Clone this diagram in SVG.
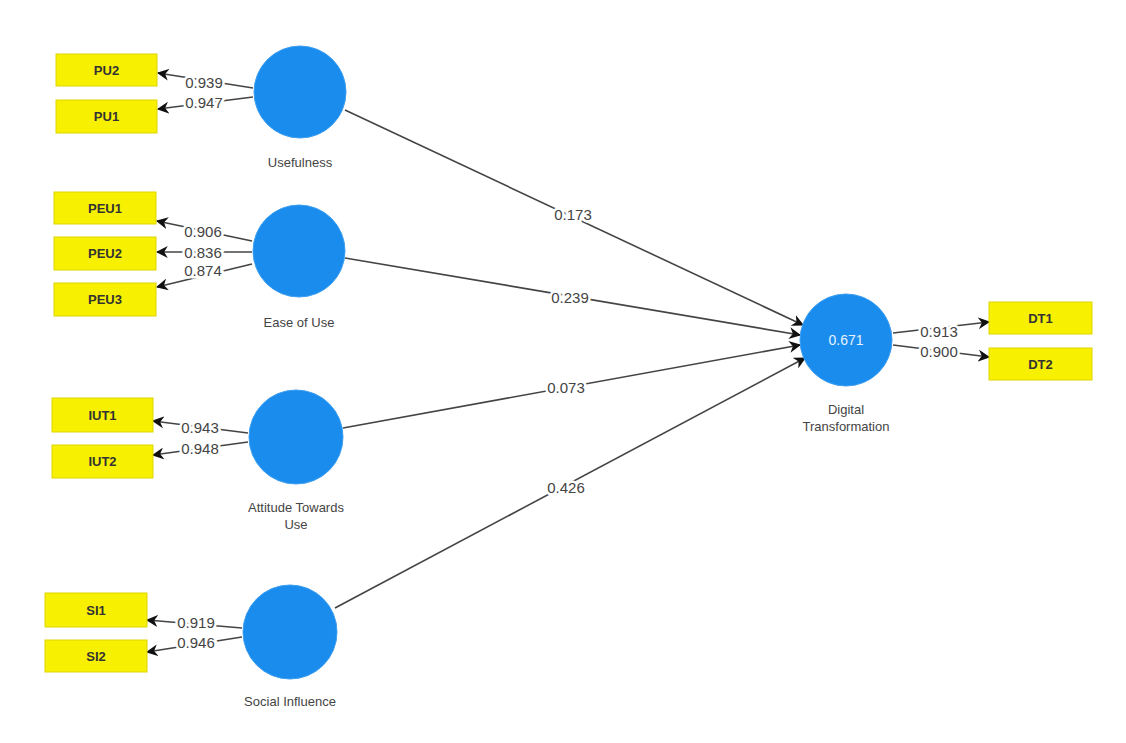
<svg xmlns="http://www.w3.org/2000/svg" width="1126" height="743" viewBox="0 0 1126 743">
<defs>
<marker id="ah" viewBox="0 0 10 10" refX="9" refY="5" markerWidth="12" markerHeight="12" markerUnits="userSpaceOnUse" orient="auto"><path d="M0,0 L10,5 L0,10 L3,5 Z" fill="#111"/></marker>
<style>
.lv{fill:#1a8ced;stroke:#3d9ef0;stroke-width:1}
.ind rect{fill:#f7f000;stroke:#ddd600;stroke-width:1}
.ind text{font-family:"Liberation Sans",Arial,sans-serif;font-size:13px;font-weight:bold;fill:#333;text-anchor:middle}
.nl{font-family:"Liberation Sans",Arial,sans-serif;font-size:13px;fill:#444;text-anchor:middle}
.cn line{stroke:#444;stroke-width:1.6;marker-end:url(#ah)}
.cl{font-family:"Liberation Sans",Arial,sans-serif;font-size:15px;fill:#444;text-anchor:middle;paint-order:stroke;stroke:#fff;stroke-width:5px}
</style>
</defs>
<rect width="1126" height="743" fill="#fff"/>
<g id="connectors" class="cn">
<line x1="345" y1="110" x2="803" y2="325"/>
<line x1="345" y1="258" x2="800" y2="335"/>
<line x1="343" y1="428" x2="800" y2="345"/>
<line x1="335" y1="608" x2="805" y2="358"/>
<line x1="253" y1="88" x2="158" y2="73"/>
<line x1="253" y1="97" x2="158" y2="109"/>
<line x1="252" y1="241" x2="157" y2="221"/>
<line x1="252" y1="252" x2="157" y2="252"/>
<line x1="252" y1="264" x2="157" y2="287"/>
<line x1="248" y1="433" x2="153" y2="421"/>
<line x1="248" y1="442" x2="153" y2="455"/>
<line x1="242" y1="628" x2="147" y2="620"/>
<line x1="242" y1="637" x2="147" y2="652"/>
<line x1="893" y1="333" x2="989" y2="322"/>
<line x1="893" y1="345" x2="989" y2="357"/>
</g>
<g id="connector-labels">
<text class="cl" x="573" y="220">0.173</text>
<text class="cl" x="570" y="303">0.239</text>
<text class="cl" x="566" y="393">0.073</text>
<text class="cl" x="566" y="493">0.426</text>
<text class="cl" x="204" y="88">0.939</text>
<text class="cl" x="204" y="108">0.947</text>
<text class="cl" x="203" y="237">0.906</text>
<text class="cl" x="203" y="258">0.836</text>
<text class="cl" x="203" y="276">0.874</text>
<text class="cl" x="200" y="433">0.943</text>
<text class="cl" x="200" y="454">0.948</text>
<text class="cl" x="196" y="628">0.919</text>
<text class="cl" x="196" y="648">0.946</text>
<text class="cl" x="939" y="337">0.913</text>
<text class="cl" x="939" y="357">0.900</text>
</g>
<g id="usefulness"><circle class="lv" cx="300" cy="92" r="46"/><text class="nl" x="300" y="167">Usefulness</text></g>
<g id="ease-of-use"><circle class="lv" cx="299" cy="251" r="46"/><text class="nl" x="299" y="327">Ease of Use</text></g>
<g id="attitude"><circle class="lv" cx="296" cy="437" r="47"/><text class="nl" x="296" y="512">Attitude Towards</text><text class="nl" x="296" y="529">Use</text></g>
<g id="social-influence"><circle class="lv" cx="290" cy="632" r="47"/><text class="nl" x="290" y="706">Social Influence</text></g>
<g id="digital-transformation"><circle class="lv" cx="846" cy="340" r="46"/><text x="846" y="345" style="font-family:'Liberation Sans',Arial,sans-serif;font-size:14px;fill:#e8f2ff;text-anchor:middle">0.671</text><text class="nl" x="846" y="414">Digital</text><text class="nl" x="846" y="431">Transformation</text></g>
<g id="PU2" class="ind"><rect x="56" y="54" width="101" height="32"/><text x="106.5" y="75">PU2</text></g>
<g id="PU1" class="ind"><rect x="56" y="100" width="101" height="33"/><text x="106.5" y="121">PU1</text></g>
<g id="PEU1" class="ind"><rect x="54" y="192" width="102" height="32"/><text x="105" y="213">PEU1</text></g>
<g id="PEU2" class="ind"><rect x="54" y="237" width="102" height="33"/><text x="105" y="258">PEU2</text></g>
<g id="PEU3" class="ind"><rect x="54" y="283" width="102" height="33"/><text x="105" y="304">PEU3</text></g>
<g id="IUT1" class="ind"><rect x="52" y="398" width="101" height="34"/><text x="102.5" y="420">IUT1</text></g>
<g id="IUT2" class="ind"><rect x="52" y="445" width="101" height="33"/><text x="102.5" y="466">IUT2</text></g>
<g id="SI1" class="ind"><rect x="45" y="593" width="102" height="34"/><text x="96" y="615">SI1</text></g>
<g id="SI2" class="ind"><rect x="45" y="640" width="102" height="32"/><text x="96" y="661">SI2</text></g>
<g id="DT1" class="ind"><rect x="989" y="302" width="103" height="32"/><text x="1040.5" y="323">DT1</text></g>
<g id="DT2" class="ind"><rect x="989" y="348" width="103" height="32"/><text x="1040.5" y="369">DT2</text></g>
</svg>
